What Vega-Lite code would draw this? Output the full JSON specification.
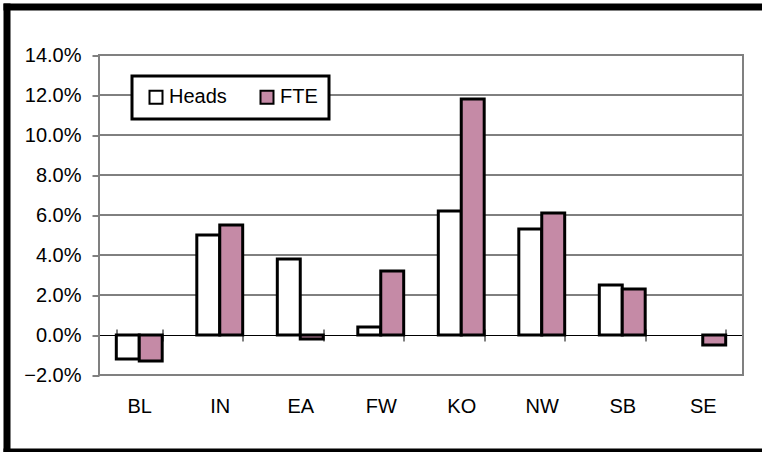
{
  "$schema": "https://vega.github.io/schema/vega-lite/v6.json",
  "autosize": "none",
  "padding": {"left": 6.5, "top": 6.5, "right": 0, "bottom": 0},
  "width": 755.5,
  "height": 445,
  "background": "white",
  "config": {"font": "Liberation Sans"},
  "view": {"stroke": null, "fill": "white"},
  "resolve": {"scale": {"x": "independent", "y": "independent"}, "axis": {"x": "independent", "y": "independent"}},
  "layer": [
    {
      "data": {"values": [{"k": 1}]},
      "mark": {"type": "point", "opacity": 0},
      "encoding": {
        "x": {"datum": 0, "type": "quantitative", "scale": {"domain": [0, 1], "range": [0, 800]},
          "axis": {"orient": "top", "offset": 0, "title": null, "domain": true, "domainColor": "black", "domainWidth": 7, "domainCap": "square", "ticks": false, "labels": false, "grid": false}},
        "y": {"datum": 0, "type": "quantitative", "scale": {"domain": [0, 1]},
          "axis": {"orient": "left", "offset": 0, "title": null, "domain": true, "domainColor": "black", "domainWidth": 7, "domainCap": "square", "ticks": false, "labels": false, "grid": false}}
      }
    },
    {
      "data": {"values": [{"k": 1}]},
      "mark": {"type": "point", "opacity": 0},
      "encoding": {
        "x": {"datum": 0, "type": "quantitative", "scale": {"domain": [0, 1], "range": [0, 800]},
          "axis": {"orient": "bottom", "offset": 0, "title": null, "domain": true, "domainColor": "black", "domainWidth": 7, "domainCap": "square", "ticks": false, "labels": false, "grid": false}}
      }
    },
    {
      "data": {"values": [{"g": 0.02}, {"g": 0.04}, {"g": 0.06}, {"g": 0.08}, {"g": 0.10}, {"g": 0.12}]},
      "mark": {"type": "rule", "color": "black", "strokeWidth": 1},
      "encoding": {
        "x": {"datum": 0, "type": "quantitative", "scale": {"domain": [0, 1], "range": [92.5, 736.5]}, "axis": null},
        "x2": {"datum": 1},
        "y": {
          "field": "g",
          "type": "quantitative",
          "title": null,
          "scale": {"domain": [-0.02, 0.14], "range": [368.5, 48.5], "nice": false, "zero": false},
          "axis": {
            "title": null,
            "orient": "left",
            "offset": -92.5,
            "values": [-0.02, 0, 0.02, 0.04, 0.06, 0.08, 0.1, 0.12, 0.14],
            "format": ".1%",
            "labelFontSize": 20,
            "labelColor": "black",
            "labelPadding": 11,
            "tickSize": 7,
            "tickColor": "black",
            "domain": false,
            "grid": false
          }
        }
      }
    },
    {
      "data": {"values": [{"k": 1}]},
      "mark": {"type": "rect", "fill": null, "fillOpacity": 0, "stroke": "#808080", "strokeWidth": 2},
      "encoding": {
        "x": {"datum": 0, "type": "quantitative", "scale": {"domain": [0, 1], "range": [92.5, 736.5]}, "axis": null},
        "x2": {"datum": 1},
        "y": {"datum": -0.02, "type": "quantitative", "title": null, "scale": {"domain": [-0.02, 0.14], "range": [368.5, 48.5], "nice": false, "zero": false}, "axis": null},
        "y2": {"datum": 0.14}
      }
    },
    {
      "data": {
        "values": [
          {"Region": "BL", "Series": "Heads", "Value": -0.012},
          {"Region": "BL", "Series": "FTE", "Value": -0.013},
          {"Region": "IN", "Series": "Heads", "Value": 0.050},
          {"Region": "IN", "Series": "FTE", "Value": 0.055},
          {"Region": "EA", "Series": "Heads", "Value": 0.038},
          {"Region": "EA", "Series": "FTE", "Value": -0.002},
          {"Region": "FW", "Series": "Heads", "Value": 0.004},
          {"Region": "FW", "Series": "FTE", "Value": 0.032},
          {"Region": "KO", "Series": "Heads", "Value": 0.062},
          {"Region": "KO", "Series": "FTE", "Value": 0.118},
          {"Region": "NW", "Series": "Heads", "Value": 0.053},
          {"Region": "NW", "Series": "FTE", "Value": 0.061},
          {"Region": "SB", "Series": "Heads", "Value": 0.025},
          {"Region": "SB", "Series": "FTE", "Value": 0.023},
          {"Region": "SE", "Series": "FTE", "Value": -0.005}
        ]
      },
      "layer": [
        {
          "mark": {"type": "bar", "stroke": "black", "strokeWidth": 3},
          "encoding": {
            "x": {
              "field": "Region",
              "type": "nominal",
              "sort": ["BL", "IN", "EA", "FW", "KO", "NW", "SB", "SE"],
              "scale": {"range": [92.5, 736.5], "paddingInner": 0.43, "paddingOuter": 0.215},
              "axis": {
                "orient": "bottom",
                "title": null,
                "offset": -116.5,
                "domainColor": "black",
                "domainWidth": 1,
                "tickColor": "black",
                "tickSize": 6,
                "tickBand": "extent",
                "labelFontSize": 20,
                "labelColor": "black",
                "labelPadding": 55,
                "labelAngle": 0,
                "grid": false
              }
            },
            "xOffset": {"field": "Series", "type": "nominal", "sort": ["Heads", "FTE"]},
            "y": {"field": "Value", "type": "quantitative", "title": null, "scale": {"domain": [-0.02, 0.14], "range": [368.5, 48.5], "nice": false, "zero": false}, "axis": null},
            "color": {
              "field": "Series",
              "type": "nominal",
              "sort": ["Heads", "FTE"],
              "scale": {"domain": ["Heads", "FTE"], "range": ["white", "#c58aa6"]},
              "legend": {
                "title": null,
                "orient": "none",
                "legendX": 125.5,
                "legendY": 69.5,
                "direction": "horizontal",
                "strokeColor": "black",
                "fillColor": "white",
                "padding": 11,
                "symbolType": "square",
                "symbolSize": 169,
                "symbolStrokeColor": "black",
                "symbolStrokeWidth": 2,
                "symbolOpacity": 1,
                "symbolOffset": 3,
                "labelFontSize": 20,
                "labelColor": "black",
                "labelOffset": 3,
                "columnPadding": 27,
                "encode": {"legend": {"update": {"strokeWidth": {"value": 3}}}}
              }
            }
          }
        },
        {
          "mark": {"type": "rule", "opacity": 0},
          "encoding": {
            "x": {
              "field": "Region",
              "type": "nominal",
              "sort": ["BL", "IN", "EA", "FW", "KO", "NW", "SB", "SE"],
              "scale": {"range": [92.5, 736.5], "paddingInner": 0.43, "paddingOuter": 0.215},
              "axis": {
                "orient": "top",
                "title": null,
                "offset": -328.5,
                "labels": false,
                "domain": false,
                "tickColor": "black",
                "tickSize": 6,
                "tickBand": "extent",
                "grid": false
              }
            }
          }
        }
      ]
    }
  ]
}
